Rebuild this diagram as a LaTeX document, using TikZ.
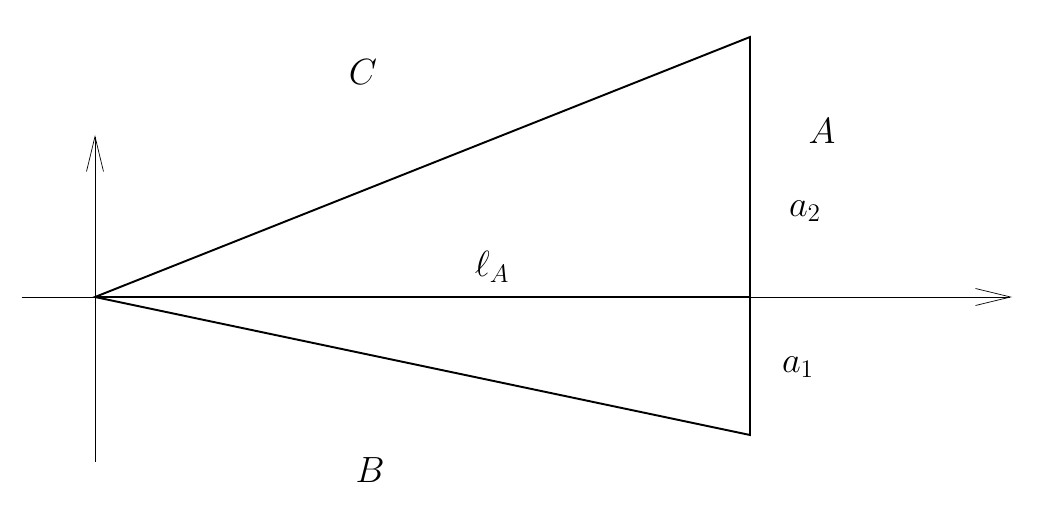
\documentclass[tikz,border=0pt]{standalone}
\usepackage{amsmath}
\usepackage{amssymb}
\usetikzlibrary{arrows.meta}

\begin{document}
\begin{tikzpicture}[semithick,
    axis/.style={thin,-{Straight Barb[length=7mm,width=3.4mm]}},
    side/.style={line width=1.1pt},
    lbl/.style={font=\huge}]
  \useasboundingbox (-1.9,-4.22) rectangle (18.88,5.94);
  \coordinate (o) at (0,0);
  \coordinate (top) at (13.1,5.2);
  \coordinate (bot) at (13.1,-2.76);
  \coordinate (foot) at (13.1,0);
  \coordinate (xl) at (-1.46,0);
  \coordinate (xr) at (18.34,0);
  \coordinate (yd) at (0,-3.3);
  \coordinate (yu) at (0,3.24);
  \draw[axis] (xl) -- (xr);
  \draw[axis] (yd) -- (yu);
  \draw[side] (o) -- (top) -- (bot) -- cycle;
  \draw[side] (o) -- (foot);
  \node[lbl] (C) at (5.36,4.5) {$C$};
  \node[lbl] (A) at (14.54,3.32) {$A$};
  \node[lbl] (a2) at (14.2,1.72) {$a_2$};
  \node[lbl] (lA) at (7.94,0.6) {$\ell_A$};
  \node[lbl] (a1) at (14.06,-1.4) {$a_1$};
  \node[lbl] (B) at (5.5,-3.46) {$B$};
\end{tikzpicture}
\end{document}
